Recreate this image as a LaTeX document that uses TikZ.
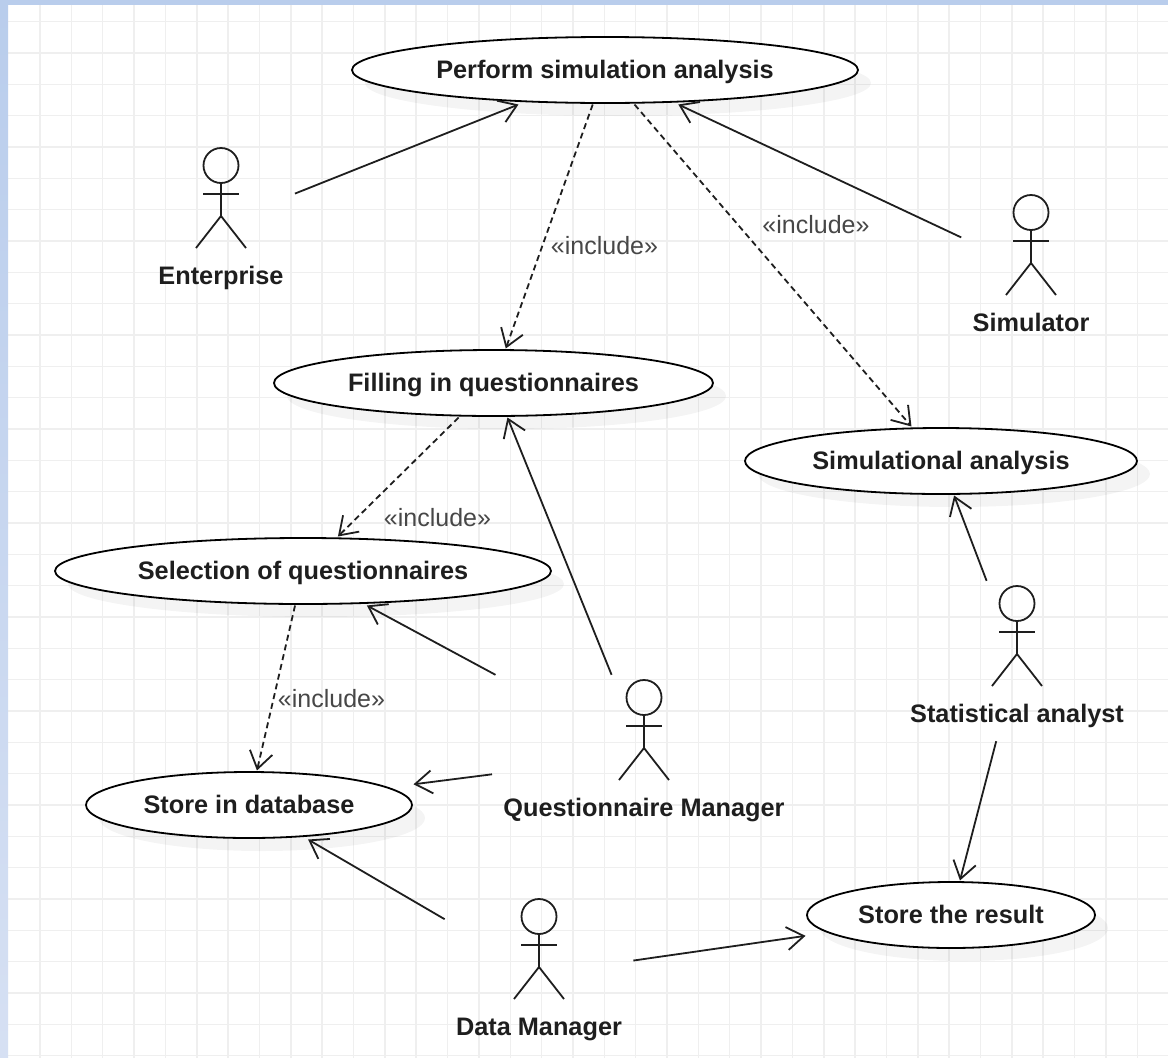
\documentclass[tikz,border=0pt]{standalone}
\usepackage{fontspec}
\setmainfont{Liberation Sans}
\usetikzlibrary{arrows.meta,fit,shadows,shapes.geometric}
\definecolor{bandtop}{HTML}{B9CDEC}
\definecolor{bandlow}{HTML}{D6E0F3}
\definecolor{gridgray}{HTML}{EFEFEF}
\definecolor{inkgray}{HTML}{1E1E1E}
\tikzset{
  usecase/.style={ellipse,draw=black,line width=1.8pt,fill=white,inner sep=0pt,
    font=\fontsize{25.3}{29}\selectfont\bfseries,text=inkgray,text height=22pt,text depth=5pt,
    drop shadow={shadow xshift=13pt,shadow yshift=-13pt,fill=black,opacity=0.045}},
  casebox/.style={inner sep=0pt,outer sep=1.5pt},
  stickman/.style={line width=1.8pt,draw=inkgray},
  actorlabel/.style={inner sep=0pt,anchor=base,font=\fontsize{25.3}{29}\selectfont\bfseries,text=inkgray},
  actorbox/.style={inner xsep=11pt,inner ysep=5pt},
  assoc/.style={line width=1.8pt,draw=inkgray,-{Straight Barb[length=17pt,width=23pt,line width=1.8pt]}},
  incl/.style={assoc,dashed,dash pattern=on 6pt off 4pt},
  stereo/.style={inner sep=0pt,font=\fontsize{25}{29}\selectfont,text=black!72},
}
\newcommand{\usecasenode}[5]{
  \node[usecase,minimum width=#4pt,minimum height=66pt] (#1) at (#2,#3) {#5};
  \node[casebox,minimum width=#4pt,minimum height=66pt] (#1box) at (#2,#3) {};
}
\newcommand{\actorfig}[4]{
  \begin{scope}[shift={(#2,#3)}]
    \draw[stickman] (0,17.5) circle (17.5);
    \draw[stickman] (0,35) -- (0,68);
    \draw[stickman] (-18,46) -- (18,46);
    \draw[stickman] (-25,100) -- (0,68) -- (25,100);
    \node[actorlabel] (#1label) at (0,136.5) {#4};
    \coordinate (#1top) at (0,0);
    \coordinate (#1bot) at (0,150);
  \end{scope}
  \node[actorbox,fit=(#1top)(#1bot)(#1label)] (#1) {};
}
\begin{document}
\begin{tikzpicture}[x=1pt,y=-1pt]
  \useasboundingbox (0,0) rectangle (1168,1058);
  % page and grid
  \fill[white] (0,0) rectangle (1168,1058);
  \foreach \i in {0,...,36} {
    \draw[gridgray,line width=1.5pt] (8,21.7+31.33*\i) -- (1168,21.7+31.33*\i);
  }
  \foreach \i in {0,...,36} {
    \draw[gridgray,line width=1.5pt] (40+31.35*\i,5) -- (40+31.35*\i,1058);
  }
  \shade[top color=bandtop,bottom color=bandlow] (0,0) rectangle (8,1058);
  \fill[bandtop] (0,0) rectangle (1168,5);
  % use cases
  \usecasenode{perform}{605}{70}{506}{Perform simulation analysis}
  \usecasenode{filling}{493.5}{383}{439}{Filling in questionnaires}
  \usecasenode{simulational}{941}{461}{392}{Simulational analysis}
  \usecasenode{selection}{303}{571}{496}{Selection of questionnaires}
  \usecasenode{storedb}{249}{805}{326}{Store in database}
  \usecasenode{storeres}{951}{915}{288}{Store the result}
  % actors
  \actorfig{enterprise}{221}{148}{Enterprise}
  \actorfig{simulator}{1031}{195}{Simulator}
  \actorfig{statistical}{1017}{586}{Statistical analyst}
  \actorfig{qmanager}{644}{680}{Questionnaire Manager}
  \actorfig{dmanager}{539}{899}{Data Manager}
  % associations
  \foreach \a/\b in {enterprise/perform,simulator/perform,qmanager/filling,qmanager/selection,qmanager/storedb,
      dmanager/storedb,dmanager/storeres,statistical/simulational,statistical/storeres} {
    \draw[assoc] (\a) -- (\b box);
  }
  % includes
  \foreach \a/\b in {perform/filling,perform/simulational,filling/selection,selection/storedb} {
    \draw[incl] (\a box) -- (\b box);
  }
  \node[stereo] (inclone) at (604.5,246) {«include»};
  \node[stereo] (incltwo) at (816,225) {«include»};
  \node[stereo] (inclthree) at (437.5,518) {«include»};
  \node[stereo] (inclfour) at (331.5,699) {«include»};
\end{tikzpicture}
\end{document}
